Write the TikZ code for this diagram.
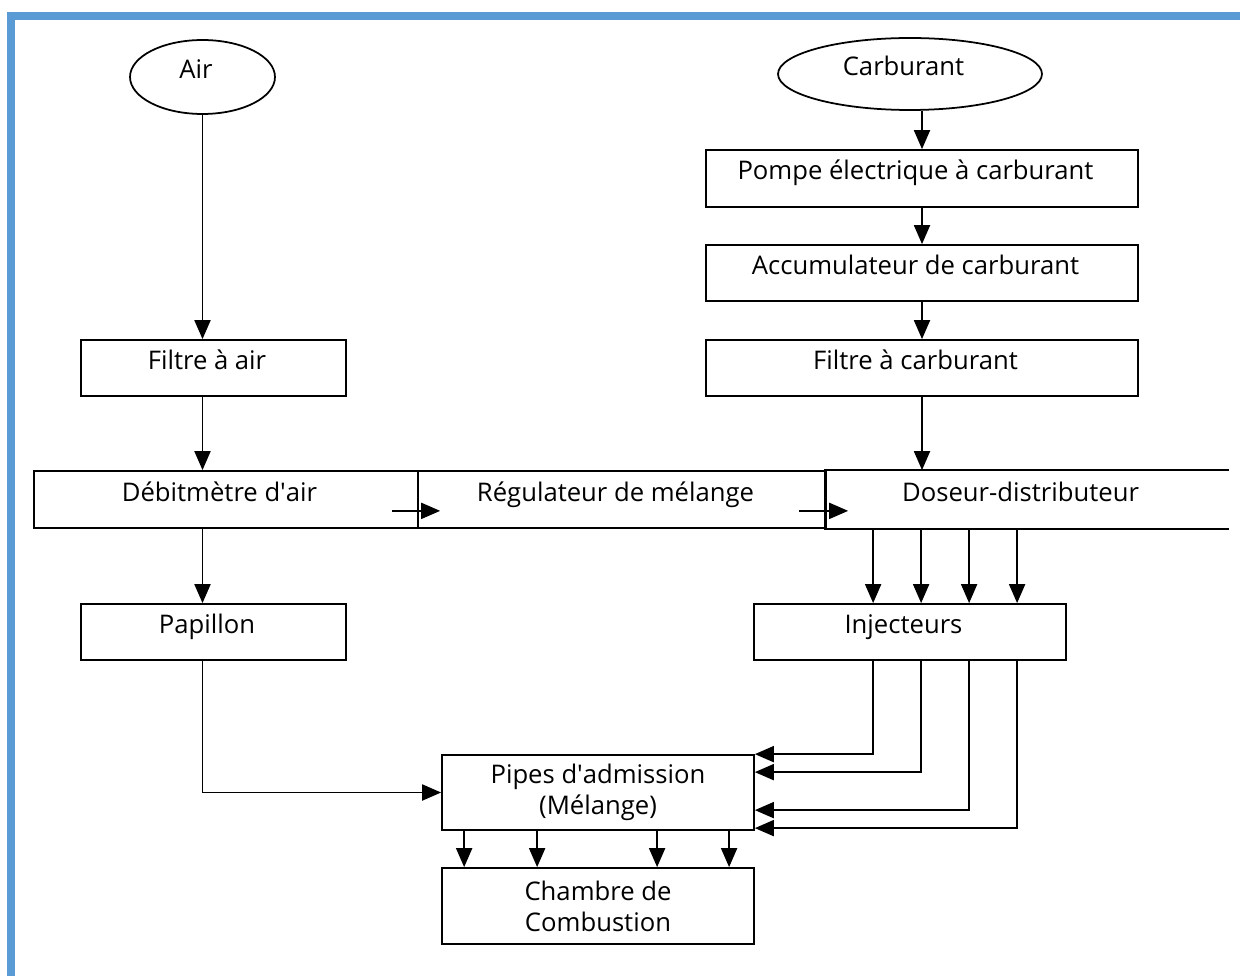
\documentclass[tikz,border=0pt]{standalone}
\usepackage{fontspec}
\setmainfont{Open Sans}
\usetikzlibrary{shapes.geometric,arrows.meta}
\definecolor{cadre}{RGB}{91,155,213}

\begin{document}
\begin{tikzpicture}[x=0.02cm,y=-0.02cm,font=\fontsize{14.6}{17.5}\selectfont,
    bloc/.style={draw,line width=1pt,inner sep=0pt,align=center},
    ligne/.style={bloc,text height=0.38cm,text depth=0.32cm,execute at end node={\hspace{0.26cm}}},
    fleche/.style={line width=1.1pt,-{Triangle[length=0.38cm,width=0.32cm]}}]
\useasboundingbox (0,0) rectangle (1240,976);

% cadre bleu
\fill[cadre] (7,12) rectangle (1240,20);
\fill[cadre] (7,12) rectangle (15,976);

% air
\node[ligne,ellipse,minimum width=2.9cm,minimum height=1.48cm] (air) at (202.5,77) {Air};
\node[ligne,minimum width=5.3cm,minimum height=1.12cm] (filtreair) at (213.5,368) {Filtre à air};

% carburant
\node[ligne,ellipse,minimum width=5.28cm,minimum height=1.44cm] (carb) at (910,74) {Carburant};
\node[ligne,minimum width=8.64cm,minimum height=1.14cm] (pompe) at (922,178.5) {Pompe électrique à carburant};
\node[ligne,minimum width=8.64cm,minimum height=1.12cm] (accu) at (922,273) {Accumulateur de carburant};
\node[ligne,minimum width=8.64cm,minimum height=1.12cm] (filtrec) at (922,368) {Filtre à carburant};

% ligne du milieu
\node[ligne,minimum width=7.68cm,minimum height=1.14cm] (debit) at (226,499.5) {Débitmètre d\textquotesingle air};
\node[ligne,minimum width=8.16cm,minimum height=1.14cm] (regul) at (622,499.5) {Régulateur de mélange};
\node[ligne,draw=none,minimum width=8.04cm,minimum height=1.14cm] (doseur) at (1027,499.5) {Doseur-distributeur};
\draw[line width=1pt] (doseur.north east) -- (doseur.north west) -- (doseur.south west) -- (doseur.south east);

\node[ligne,minimum width=5.3cm,minimum height=1.12cm] (pap) at (213.5,632) {Papillon};
\node[ligne,minimum width=6.24cm,minimum height=1.12cm] (inj) at (910,632) {Injecteurs};

\node[bloc,minimum width=6.24cm,minimum height=1.5cm] (pipes) at (598,792.5) {Pipes d\textquotesingle admission\hspace{0.3cm}\\(Mélange)};
\node[bloc,minimum width=6.24cm,minimum height=1.52cm] (chambre) at (598,906) {Chambre de\\Combustion};

% fleches
\draw[fleche] (air.south) -- (air.south |- filtreair.north);
\draw[fleche] (air |- filtreair.south) -- (air |- debit.north);
\draw[fleche] (air |- debit.south) -- (air |- pap.north);
\draw[fleche] (air |- pap.south) |- (pipes.west);

\draw[fleche] (pompe.north |- carb.south) -- (pompe.north);
\draw[fleche] (pompe.south) -- (accu.north);
\draw[fleche] (accu.south) -- (filtrec.north);
\draw[fleche] (filtrec.south) -- (filtrec.south |- doseur.north);

\draw[fleche] ([shift={(-25,-18)}]regul.south west) -- ++(48,0);
\draw[fleche] ([shift={(-26,-18)}]doseur.south west) -- ++(49,0);

\foreach \d [count=\i] in {2.4cm,3.36cm,4.32cm,5.28cm}
    \coordinate (col\i) at ([xshift=\d]inj.north west);
\foreach \i in {1,...,4}
    \draw[fleche] (col\i |- doseur.south) -- (col\i);
\foreach \i/\dy in {1/0cm,2/-0.36cm,3/-1.12cm,4/-1.48cm}
    \draw[fleche] (col\i |- inj.south) |- ([yshift=\dy]pipes.north east);

\foreach \d in {0.46cm,1.92cm,4.32cm,5.76cm}
    \draw[fleche] ([xshift=\d]pipes.south west) -- ([xshift=\d]chambre.north west);

\end{tikzpicture}
\end{document}
